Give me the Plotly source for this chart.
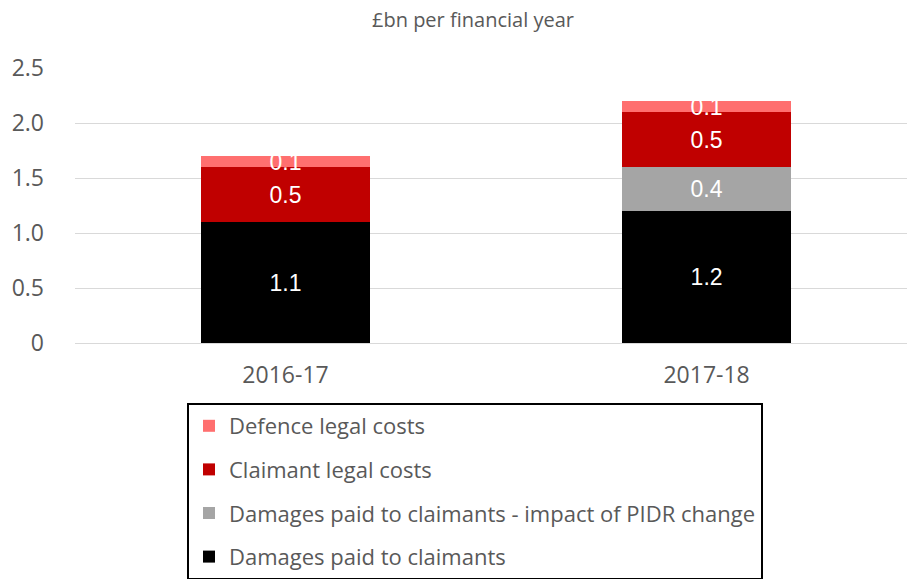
import plotly.graph_objects as go

categories = ["2016-17", "2017-18"]
damages = [1.1, 1.2]
pidr = [None, 0.4]
claimant = [0.5, 0.5]
defence = [0.1, 0.1]

series = [
    ("Damages paid to claimants", damages, "#000000"),
    ("Damages paid to claimants - impact of PIDR change", pidr, "#A5A5A5"),
    ("Claimant legal costs", claimant, "#C00000"),
    ("Defence legal costs", defence, "#FF6F6F"),
]

W, H = 907, 579
L, R, T, B = 75, 0, 68, 236

fig = go.Figure()
for i, (name, vals, col) in enumerate(series):
    fig.add_trace(go.Bar(
        x=categories, y=vals, name=name, marker_color=col,
        marker_line_width=0, width=0.4,
        text=[("" if v is None else f"{v:.1f}") for v in vals],
        textposition="inside", insidetextanchor="middle",
        constraintext="none",
        textfont=dict(family="Liberation Sans, Arial", size=23, color="white"),
        legendgroup=f"g{i}", legendrank=len(series) - i,
    ))

fig.update_layout(
    width=W, height=H,
    barmode="stack",
    margin=dict(l=L, r=R, t=T, b=B, autoexpand=False),
    paper_bgcolor="white", plot_bgcolor="white",
    font=dict(family="Open Sans", color="#595959"),
    annotations=[dict(
        text="£bn per financial year", xref="paper", yref="paper",
        x=(473 - L) / (W - L - R), y=1 + (68 - 20) / (H - T - B),
        xanchor="center", yanchor="middle", showarrow=False,
        font=dict(family="Open Sans", size=20, color="#595959"),
    )],
    xaxis=dict(range=[-0.5, 1.476], showgrid=False, showline=False,
               automargin=False, ticks="", ticklabelstandoff=16,
               tickfont=dict(size=23, color="#595959")),
    yaxis=dict(range=[0, 2.5], tickvals=[0, 0.5, 1.0, 1.5, 2.0, 2.5],
               ticktext=["0", "0.5", "1.0", "1.5", "2.0", "2.5"],
               showgrid=True, gridcolor="#D9D9D9", gridwidth=1,
               zeroline=True, zerolinecolor="#D9D9D9", zerolinewidth=1,
               showline=False, ticks="", ticklabelstandoff=30,
               automargin=False,
               tickfont=dict(size=23, color="#595959")),
    legend=dict(
        x=(187 - L) / (W - L - R), yref="container", y=1 - 403 / H,
        xanchor="left", yanchor="top",
        traceorder="grouped", tracegroupgap=12,
        bordercolor="#000000", borderwidth=2, bgcolor="white",
        font=dict(family="Open Sans", size=22, color="#595959"),
        itemwidth=30,
    ),
    showlegend=True,
)

fig.write_html(
    "out.html",
    config={"displayModeBar": False},
    post_script="document.body.style.margin='0';document.body.style.overflow='hidden';",
)
